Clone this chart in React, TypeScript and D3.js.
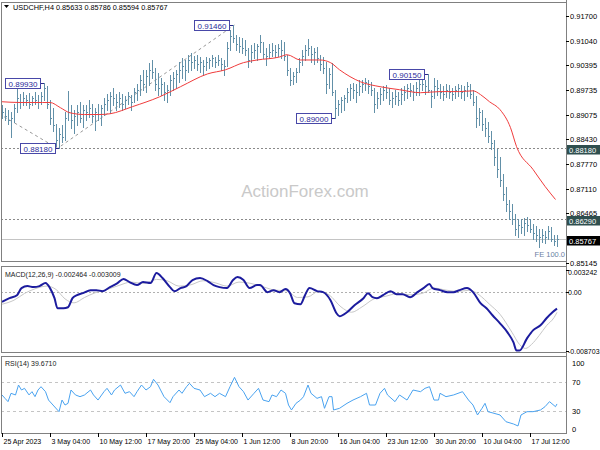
import React, { useEffect, useRef } from 'react';
import * as d3 from 'd3';

const symbol = 'USDCHF,H4';
const lastOHLC = ['0.85633', '0.85786', '0.85594', '0.85767'];

// one drawn bar for every two H4 bars (real bar index = 2k)
const barHigh = [
  0.8932, 0.8926, 0.8921, 0.8916, 0.8937, 0.8977, 0.8963, 0.8969, 0.8961, 0.8966,
  0.8958, 0.8969, 0.8961, 0.8969, 0.8993, 0.8985, 0.8947, 0.8926, 0.8884, 0.8873,
  0.8879, 0.8916, 0.8971, 0.8932, 0.8921, 0.8932, 0.894, 0.8934, 0.8932, 0.8947,
  0.8937, 0.8926, 0.8937, 0.8932, 0.8953, 0.8963, 0.8969, 0.8979, 0.8963, 0.8969,
  0.8963, 0.8958, 0.8969, 0.8961, 0.8979, 0.899, 0.9014, 0.9027, 0.9027, 0.9046,
  0.9053, 0.9032, 0.9019, 0.9006, 0.8995, 0.8987, 0.9014, 0.9022, 0.9027, 0.9048,
  0.9059, 0.9053, 0.9067, 0.9072, 0.9064, 0.9067, 0.9061, 0.9053, 0.9061, 0.9059,
  0.9067, 0.9061, 0.9067, 0.9059, 0.9053, 0.9101, 0.9133, 0.9146, 0.912, 0.9114,
  0.9112, 0.9106, 0.9085, 0.9093, 0.9099, 0.9096, 0.912, 0.9101, 0.9085, 0.9096,
  0.9099, 0.9093, 0.9096, 0.9106, 0.9101, 0.9067, 0.9032, 0.9022, 0.9032, 0.9059,
  0.908, 0.9093, 0.9109, 0.9091, 0.9085, 0.9088, 0.9067, 0.9061, 0.9048, 0.9032,
  0.9046, 0.8974, 0.8947, 0.8955, 0.8961, 0.8979, 0.899, 0.8993, 0.899, 0.9,
  0.9, 0.9006, 0.9, 0.8995, 0.8979, 0.8969, 0.8979, 0.8985, 0.8987, 0.8979,
  0.8969, 0.8974, 0.8969, 0.8979, 0.8985, 0.899, 0.8993, 0.8987, 0.8995, 0.9,
  0.9006, 0.9, 0.9015, 0.8974, 0.9006, 0.9, 0.899, 0.8985, 0.899, 0.8987,
  0.8979, 0.8985, 0.899, 0.8987, 0.8985, 0.8995, 0.899, 0.8974, 0.8958, 0.8926,
  0.8921, 0.89, 0.8889, 0.8863, 0.8841, 0.8815, 0.8794, 0.8749, 0.8714, 0.8682,
  0.8669, 0.8643, 0.8629, 0.8629, 0.8632, 0.8635, 0.8629, 0.8616, 0.8611, 0.8603,
  0.8603, 0.8598, 0.8611, 0.8608, 0.8587, 0.8587,
];
const barLow = [
  0.89, 0.8894, 0.8884, 0.8849, 0.8889, 0.8916, 0.8926, 0.8932, 0.8934, 0.8926,
  0.8932, 0.8937, 0.8926, 0.8937, 0.8947, 0.8926, 0.8884, 0.8863, 0.8823, 0.8818,
  0.8834, 0.8841, 0.8894, 0.8873, 0.886, 0.8881, 0.8889, 0.8876, 0.8894, 0.8902,
  0.8889, 0.8868, 0.8894, 0.8881, 0.8908, 0.8921, 0.8913, 0.8934, 0.8921, 0.8929,
  0.8921, 0.8926, 0.8937, 0.8921, 0.894, 0.8947, 0.8961, 0.8974, 0.8969, 0.8987,
  0.9006, 0.8974, 0.8961, 0.8961, 0.8947, 0.894, 0.8961, 0.8974, 0.8979, 0.8995,
  0.9006, 0.9, 0.9022, 0.9027, 0.9032, 0.9027, 0.9022, 0.9014, 0.9027, 0.9032,
  0.9038, 0.9035, 0.904, 0.9027, 0.9014, 0.9038, 0.908, 0.9101, 0.908, 0.9075,
  0.9072, 0.9067, 0.9035, 0.9048, 0.9059, 0.9053, 0.9075, 0.9059, 0.904, 0.9059,
  0.9064, 0.9061, 0.9064, 0.9059, 0.9053, 0.9014, 0.8987, 0.899, 0.8995, 0.9022,
  0.904, 0.9053, 0.9067, 0.9048, 0.9043, 0.9048, 0.9027, 0.9019, 0.8966, 0.8979,
  0.8961, 0.89, 0.8908, 0.8916, 0.8921, 0.894, 0.8947, 0.8953, 0.8942, 0.8961,
  0.8969, 0.8974, 0.8966, 0.8961, 0.8916, 0.8926, 0.8937, 0.8947, 0.8953, 0.8937,
  0.8929, 0.8937, 0.8932, 0.8937, 0.8947, 0.8953, 0.8958, 0.8947, 0.8961, 0.8961,
  0.8974, 0.8963, 0.8969, 0.8929, 0.8953, 0.8961, 0.8953, 0.8947, 0.8955, 0.8953,
  0.8947, 0.8953, 0.8958, 0.8953, 0.8947, 0.8958, 0.8953, 0.8932, 0.8876, 0.8881,
  0.8868, 0.8852, 0.8836, 0.8815, 0.8775, 0.8741, 0.8717, 0.8682, 0.8651, 0.8629,
  0.8616, 0.8587, 0.8582, 0.8592, 0.8587, 0.8598, 0.8595, 0.8576, 0.8571, 0.8555,
  0.8568, 0.8566, 0.8576, 0.8571, 0.8561, 0.8559,
];
const barClose = [
  0.8916, 0.8905, 0.8894, 0.89, 0.8926, 0.8953, 0.8942, 0.8953, 0.8947, 0.8937,
  0.8953, 0.8947, 0.8942, 0.8958, 0.8979, 0.8937, 0.89, 0.8879, 0.8841, 0.8855,
  0.8847, 0.89, 0.8916, 0.8894, 0.8905, 0.8916, 0.89, 0.8921, 0.8916, 0.8926,
  0.8905, 0.8916, 0.891, 0.8926, 0.8937, 0.8947, 0.8958, 0.8953, 0.8942, 0.8953,
  0.8937, 0.8947, 0.8958, 0.8942, 0.8969, 0.8974, 0.9, 0.899, 0.9011, 0.9027,
  0.9022, 0.899, 0.8979, 0.899, 0.8969, 0.8974, 0.9, 0.9006, 0.9016, 0.9027,
  0.9038, 0.9027, 0.9053, 0.9048, 0.9053, 0.9043, 0.9048, 0.9038, 0.9048, 0.9053,
  0.9059, 0.9048, 0.9053, 0.9043, 0.9038, 0.9085, 0.9117, 0.9112, 0.9096, 0.9091,
  0.9085, 0.908, 0.9053, 0.9075, 0.908, 0.9091, 0.9101, 0.9069, 0.9064, 0.9075,
  0.908, 0.9075, 0.9085, 0.908, 0.9064, 0.9027, 0.9, 0.9011, 0.9022, 0.9048,
  0.9064, 0.908, 0.9085, 0.9069, 0.9075, 0.9059, 0.9043, 0.9032, 0.899, 0.9016,
  0.8969, 0.8926, 0.8937, 0.8947, 0.8953, 0.8969, 0.8979, 0.8974, 0.8969, 0.8985,
  0.899, 0.8995, 0.8985, 0.8974, 0.8937, 0.8953, 0.8963, 0.8974, 0.8969, 0.8947,
  0.8953, 0.8958, 0.8947, 0.8963, 0.8969, 0.8979, 0.8974, 0.8969, 0.8979, 0.899,
  0.899, 0.8985, 0.8974, 0.8958, 0.8985, 0.8979, 0.8969, 0.8963, 0.8974, 0.8969,
  0.8963, 0.8974, 0.8979, 0.8969, 0.8974, 0.8985, 0.8963, 0.8942, 0.89, 0.8916,
  0.8884, 0.8873, 0.8852, 0.8831, 0.8794, 0.8762, 0.8735, 0.8696, 0.8669, 0.8651,
  0.8629, 0.8603, 0.8614, 0.8608, 0.8619, 0.8614, 0.8603, 0.8592, 0.8587, 0.8582,
  0.8587, 0.8582, 0.8598, 0.8576, 0.8571, 0.85767,
];

// red moving average, sampled points [real bar index, price]
const maIdx = [0, 12, 27, 32, 39, 45, 55, 65, 72, 87, 105, 119, 137, 149, 161, 170, 185, 190, 199, 212, 219, 225, 239, 252, 265, 279, 292, 305, 314, 319, 325, 332, 339, 343, 354, 362, 369];
const maVal = [0.8942, 0.894, 0.894, 0.894, 0.8926, 0.8913, 0.8908, 0.8908, 0.891, 0.8929, 0.8955, 0.8982, 0.9016, 0.9027, 0.9046, 0.9053, 0.9061, 0.9067, 0.9053, 0.9053, 0.9046, 0.9027, 0.8995, 0.8982, 0.8974, 0.8966, 0.8969, 0.8969, 0.8971, 0.8961, 0.8942, 0.8921, 0.8873, 0.8823, 0.8762, 0.8717, 0.8682];

// MACD(12,26,9) main line and signal
const macdIdx = [0, 5, 10, 13, 17, 21, 25, 29, 32, 35, 37, 41, 44, 47, 50, 54, 59, 63, 67, 72, 77, 81, 85, 90, 94, 99, 103, 107, 112, 115, 119, 123, 127, 132, 137, 141, 145, 150, 154, 157, 161, 165, 170, 172, 177, 181, 185, 189, 192, 195, 199, 202, 205, 210, 214, 219, 223, 225, 230, 235, 241, 244, 247, 250, 254, 259, 263, 267, 272, 277, 281, 285, 287, 292, 297, 301, 305, 310, 314, 319, 323, 327, 332, 337, 341, 343, 345, 350, 354, 359, 363, 367, 370];
const macdVal = [-0.00146, -0.0009, -0.00045, 0.0006, 0.0009, 0.00075, 0.0009, 0.00135, 0.0006, -0.0009, -0.0024, -0.0024, -0.00225, -0.0009, -0.00045, -0.00015, 0.0003, 0.0003, 0.00015, 0.00075, 0.00135, 0.00195, 0.0015, 0.00105, 0.0015, 0.00135, 0.00285, 0.0021, 0.00075, 0.00015, 0.0006, 0.0009, 0.0018, 0.0021, 0.00165, 0.00105, 0.00075, 0.0006, 0.0018, 0.00225, 0.0018, 0.0006, 0.00105, 0.00105, 0, 0.0003, 0, 0.00045, -0.00015, -0.00165, -0.0018, -0.00045, 0.0006, 0.00015, 0, -0.0012, -0.00315, -0.0036, -0.003, -0.00195, -0.0009, -0.00015, -0.00075, -0.0009, -0.00045, 0.00015, -0.0003, -0.0003, -0.00075, 0, 0.0006, 0.0012, 0.0006, 0.0003, 0, 0, 0.0003, 0.0006, 0, -0.00165, -0.0024, -0.00345, -0.00465, -0.006, -0.0075, -0.0087, -0.0087, -0.0069, -0.0057, -0.00495, -0.0039, -0.003, -0.002464];
const sigIdx = [0, 8, 15, 22, 30, 36, 42, 48, 55, 62, 70, 78, 86, 95, 103, 110, 118, 126, 134, 142, 150, 158, 166, 174, 182, 190, 197, 204, 211, 218, 226, 233, 240, 248, 256, 264, 272, 280, 288, 296, 304, 312, 318, 325, 332, 340, 345, 349, 353, 358, 363, 368, 370];
const sigVal = [-0.0018, -0.0012, -0.0002, 0.0005, 0.0009, 0.0004, -0.001, -0.0016, -0.0008, -0.0001, 0.0004, 0.001, 0.0015, 0.0013, 0.0019, 0.0017, 0.0009, 0.0011, 0.0017, 0.0014, 0.0009, 0.0015, 0.0013, 0.0008, 0.0003, 0.0002, -0.0008, -0.0007, 0.0001, -0.0004, -0.0022, -0.003, -0.0022, -0.001, -0.0006, -0.0002, -0.0004, -0.0002, 0.0006, 0.0003, 0.0001, 0.0003, -0.0004, -0.0018, -0.0033, -0.006, -0.0078, -0.0084, -0.0078, -0.0065, -0.005, -0.0038, -0.003009];

// RSI(14)
const rsiIdx = [0, 2, 4, 6, 9, 11, 13, 15, 18, 20, 22, 24, 26, 29, 31, 34, 38, 40, 42, 44, 46, 49, 52, 55, 59, 61, 64, 68, 70, 73, 75, 79, 82, 85, 88, 90, 93, 96, 99, 101, 104, 108, 112, 114, 118, 120, 123, 125, 128, 132, 135, 139, 142, 145, 149, 152, 155, 158, 161, 164, 168, 171, 174, 178, 180, 183, 186, 189, 191, 193, 196, 199, 201, 204, 206, 210, 213, 215, 218, 220, 221, 225, 230, 234, 239, 243, 245, 249, 252, 255, 257, 262, 265, 270, 274, 279, 282, 285, 288, 291, 292, 296, 301, 307, 311, 314, 317, 320, 322, 324, 328, 332, 336, 341, 344, 346, 350, 354, 359, 362, 365, 369, 370];
const rsiVal = [51.9, 47.3, 42.8, 54.2, 51.9, 65.5, 58.7, 61, 52, 56.4, 49.6, 58.7, 63.2, 56.4, 45, 38.2, 29.1, 45, 38.2, 40.5, 58.7, 51.9, 49.6, 51.9, 58.7, 51.9, 45, 56.4, 61, 51.9, 58.7, 65.5, 54.2, 56.4, 49.6, 56.4, 65.5, 58.7, 63.2, 73.3, 65.5, 49.6, 41.4, 49.6, 58.7, 54.2, 63.2, 67.8, 61, 58.7, 49.6, 54.2, 49.6, 54.2, 49.6, 63.2, 76, 63.2, 56.4, 45, 54.2, 61, 45, 42.8, 51.9, 49.6, 58.7, 54.2, 38.2, 31.4, 40.5, 45, 49.6, 65.5, 54.2, 47.3, 49.6, 33.7, 49.6, 49.6, 31.4, 33.7, 40.5, 45, 49.6, 54.2, 38.2, 38.2, 54.2, 61, 51.9, 42.8, 51.9, 45, 58.7, 56.4, 61, 63.2, 45, 45, 54.2, 49.6, 51.9, 56.4, 45, 38.2, 24.6, 33.7, 40.5, 29.1, 26.9, 24.6, 15.4, 12.3, 9.6, 24.6, 29.1, 29.1, 31.4, 35.9, 42.8, 35.9, 39.671];

// price axis ticks
const priceTicks = [0.917, 0.9104, 0.90395, 0.89735, 0.89075, 0.8843, 0.8777, 0.8711, 0.86465, 0.85145];
const dateIdx = [0, 32, 64, 96, 128, 160, 192, 224, 256, 288, 320, 352];
const dateLabels = ['25 Apr 2023', '3 May 04:00', '10 May 12:00', '17 May 20:00', '25 May 04:00', '1 Jun 12:00', '8 Jun 20:00', '16 Jun 04:00', '23 Jun 12:00', '30 Jun 20:00', '10 Jul 04:00', '17 Jul 12:00'];

// swing labels
const annIdx = [28, 38, 154, 222, 284];
const annPrice = [0.8993, 0.8818, 0.9146, 0.89, 0.9015];

// fibo expansion anchors
const feIdx = [-2, 37, 155];
const fePrice = [0.891, 0.8818, 0.9146];

const levelPrices = [0.8818, 0.8629];
const lastPrice = 0.85767;

const FONT = '"Liberation Sans", Arial, sans-serif';

const Chart: React.FC = () => {
  const svgRef = useRef<SVGSVGElement>(null);

  useEffect(() => {
    if (!svgRef.current) return;
    const svg = d3.select(svgRef.current);
    svg.selectAll('*').remove();

    const L = 1, R = 566;
    const mainTop = 2, mainBot = 261;
    const macdTop = 266, macdBot = 352;
    const rsiTop = 356, rsiBot = 433;

    const x = d3.scaleLinear().domain([0, 371]).range([2, 558.5]);
    const yP = d3.scaleLinear().domain([0.85145, 0.917]).range([262.5, 16]);
    const yM = d3.scaleLinear().domain([-0.008703, 0.003242]).range([350.5, 270.4]);
    const yR = d3.scaleLinear().domain([0, 100]).range([433, 359.75]);

    svg.append('rect').attr('width', 600).attr('height', 450).attr('fill', '#fff');

    const defs = svg.append('defs');
    const clip = (id: string, top: number, bot: number) =>
      defs.append('clipPath').attr('id', id).append('rect')
        .attr('x', L).attr('y', top).attr('width', R - L).attr('height', bot - top);
    clip('cMain', mainTop, mainBot);
    clip('cMacd', macdTop, macdBot);
    clip('cRsi', rsiTop, rsiBot);

    const txt = (g: any, tx: number, ty: number, s: string, size = 8, fill = '#000', anchor = 'start') =>
      g.append('text').attr('x', tx).attr('y', ty).attr('font-family', FONT)
        .attr('font-size', size).attr('fill', fill).attr('text-anchor', anchor).text(s);

    // ---------- main panel ----------
    const main = svg.append('g').attr('clip-path', 'url(#cMain)');

    // watermark
    main.append('text').attr('x', 305).attr('y', 197).attr('text-anchor', 'middle')
      .attr('font-family', FONT).attr('font-size', 17).attr('fill', '#c9c9c9').text('ActionForex.com');

    levelPrices.forEach((p) => {
      main.append('line').attr('x1', L).attr('x2', R)
        .attr('y1', Math.round(yP(p)) + 0.5).attr('y2', Math.round(yP(p)) + 0.5)
        .attr('stroke', '#8a8a8a').attr('stroke-dasharray', '2,2');
    });
    main.append('line').attr('x1', L).attr('x2', R)
      .attr('y1', Math.round(yP(lastPrice)) + 0.5).attr('y2', Math.round(yP(lastPrice)) + 0.5)
      .attr('stroke', '#c4c4c4');

    // fibo expansion trend lines
    const feLine = d3.line<number>().x((d) => x(feIdx[d])).y((d) => yP(fePrice[d]));
    main.append('path').attr('d', feLine(feIdx.map((_, i) => i)))
      .attr('fill', 'none').attr('stroke', '#9a9a9a').attr('stroke-dasharray', '3,3');
    txt(main, 565, 257, 'FE 100.0', 7.5, '#6d7fa3', 'end');

    // OHLC bars
    let d = '';
    barHigh.forEach((h, k) => {
      const bx = Math.round(x(2 * k)) + 0.5;
      const o = k === 0 ? 0.8921 : barClose[k - 1];
      d += `M${bx},${Math.round(yP(h))}V${Math.round(yP(barLow[k])) + 1}`;
      d += `M${bx - 1},${Math.round(yP(o)) + 0.5}H${bx}`;
      d += `M${bx},${Math.round(yP(barClose[k])) + 0.5}H${bx + 1}`;
    });
    main.append('path').attr('d', d).attr('fill', 'none').attr('stroke', '#6290a8')
      .attr('stroke-width', 1).attr('shape-rendering', 'crispEdges');

    // moving average
    const maLine = d3.line<number>().x((i) => x(maIdx[i])).y((i) => yP(maVal[i])).curve(d3.curveMonotoneX);
    main.append('path').attr('d', maLine(maIdx.map((_, i) => i)))
      .attr('fill', 'none').attr('stroke', '#f03c3c').attr('stroke-width', 1);

    // swing labels
    annIdx.forEach((bi, i) => {
      const bx = x(bi);
      const by = Math.round(yP(annPrice[i])) + 0.5;
      const bw = 35, bh = 10;
      const right = Math.round(bx) - 4;
      main.append('line').attr('x1', right).attr('x2', bx).attr('y1', by).attr('y2', by)
        .attr('stroke', '#2a2a8a');
      main.append('rect').attr('x', right - bw + 0.5).attr('y', by - bh / 2).attr('width', bw).attr('height', bh)
        .attr('fill', '#fff').attr('stroke', '#4848a8');
      txt(main, right - bw / 2 + 0.5, by + 3, annPrice[i].toFixed(5), 8, '#2b2b9a', 'middle');
    });

    // ---------- MACD panel ----------
    const macd = svg.append('g').attr('clip-path', 'url(#cMacd)');
    macd.append('line').attr('x1', L).attr('x2', R)
      .attr('y1', Math.round(yM(0)) + 0.5).attr('y2', Math.round(yM(0)) + 0.5)
      .attr('stroke', '#b0b0b0').attr('stroke-dasharray', '2,2');
    const sigLine = d3.line<number>().x((i) => x(sigIdx[i])).y((i) => yM(sigVal[i])).curve(d3.curveMonotoneX);
    macd.append('path').attr('d', sigLine(sigIdx.map((_, i) => i)))
      .attr('fill', 'none').attr('stroke', '#c8c8c8').attr('stroke-width', 1);
    const macdLine = d3.line<number>().x((i) => x(macdIdx[i])).y((i) => yM(macdVal[i])).curve(d3.curveMonotoneX);
    macd.append('path').attr('d', macdLine(macdIdx.map((_, i) => i)))
      .attr('fill', 'none').attr('stroke', '#1c1c9e').attr('stroke-width', 2).attr('stroke-linejoin', 'round');
    txt(svg, 5, 277, 'MACD(12,26,9) -0.002464 -0.003009', 7, '#222');

    // ---------- RSI panel ----------
    const rsi = svg.append('g').attr('clip-path', 'url(#cRsi)');
    [70, 30].forEach((lv) => {
      rsi.append('line').attr('x1', L).attr('x2', R)
        .attr('y1', Math.round(yR(lv)) + 0.5).attr('y2', Math.round(yR(lv)) + 0.5)
        .attr('stroke', '#c4c4c4').attr('stroke-dasharray', '3,3');
    });
    const rsiLine = d3.line<number>().x((i) => x(rsiIdx[i])).y((i) => yR(rsiVal[i]));
    rsi.append('path').attr('d', rsiLine(rsiIdx.map((_, i) => i)))
      .attr('fill', 'none').attr('stroke', '#4aa3f0').attr('stroke-width', 1);
    txt(svg, 5, 366, 'RSI(14) 39.6710', 7, '#222');

    // ---------- frames ----------
    [[mainTop, mainBot], [macdTop, macdBot], [rsiTop, rsiBot]].forEach(([t, b]) => {
      svg.append('rect').attr('x', L + 0.5).attr('y', t + 0.5).attr('width', R - L).attr('height', b - t)
        .attr('fill', 'none').attr('stroke', '#808080');
    });
    svg.append('line').attr('x1', R + 0.5).attr('x2', R + 0.5).attr('y1', 0).attr('y2', rsiBot + 1)
      .attr('stroke', '#808080');

    // header
    svg.append('path').attr('d', 'M4,5H9L6.5,8Z').attr('fill', '#000');
    txt(svg, 13, 10, `${symbol} ${lastOHLC.join(' ')}`, 7.3, '#000');

    // ---------- right axis ----------
    const ax = svg.append('g');
    priceTicks.forEach((p) => {
      const ty = Math.round(yP(p)) + 0.5;
      ax.append('line').attr('x1', R).attr('x2', R + 3).attr('y1', ty).attr('y2', ty).attr('stroke', '#000');
      txt(ax, R + 4, ty + 2, p.toFixed(5), 7.5);
    });
    const tag = (p: number, label: string, bg: string) => {
      const ty = Math.round(yP(p));
      ax.append('rect').attr('x', R + 1).attr('y', ty - 3).attr('width', 33).attr('height', 9.5).attr('fill', bg);
      txt(ax, R + 3, ty + 4.5, label, 7.5, '#fff');
    };
    tag(levelPrices[0], '0.88180', '#2f4f4f');
    tag(levelPrices[1], '0.86290', '#2f4f4f');
    tag(lastPrice, '0.85767', '#000');

    [[0.003242, '0.003242', 271.5], [0, '0.00', 292], [-0.008703, '-0.008703', 350.5]].forEach(([v, s, ty]) => {
      ax.append('line').attr('x1', R).attr('x2', R + 3).attr('y1', Math.round(yM(v as number)) + 0.5)
        .attr('y2', Math.round(yM(v as number)) + 0.5).attr('stroke', '#000');
      txt(ax, R + 2, (ty as number) + 3, s as string, 7);
    });
    [[100, 362.5], [70, 382], [30, 411], [0, 429]].forEach(([v, ty]) => {
      txt(ax, R + 6, ty + 3, String(v), 7.5);
    });

    // ---------- time axis ----------
    dateIdx.forEach((bi, i) => {
      const tx = Math.round(x(bi)) + 0.5;
      ax.append('line').attr('x1', tx).attr('x2', tx).attr('y1', rsiBot).attr('y2', rsiBot + 4).attr('stroke', '#000');
      txt(ax, tx + 1, 444, dateLabels[i], 7);
    });
  }, []);

  return <svg ref={svgRef} width={600} height={450} style={{ position: 'absolute', left: 0, top: 0 }} />;
};

export default function App() {
  return <Chart />;
}
